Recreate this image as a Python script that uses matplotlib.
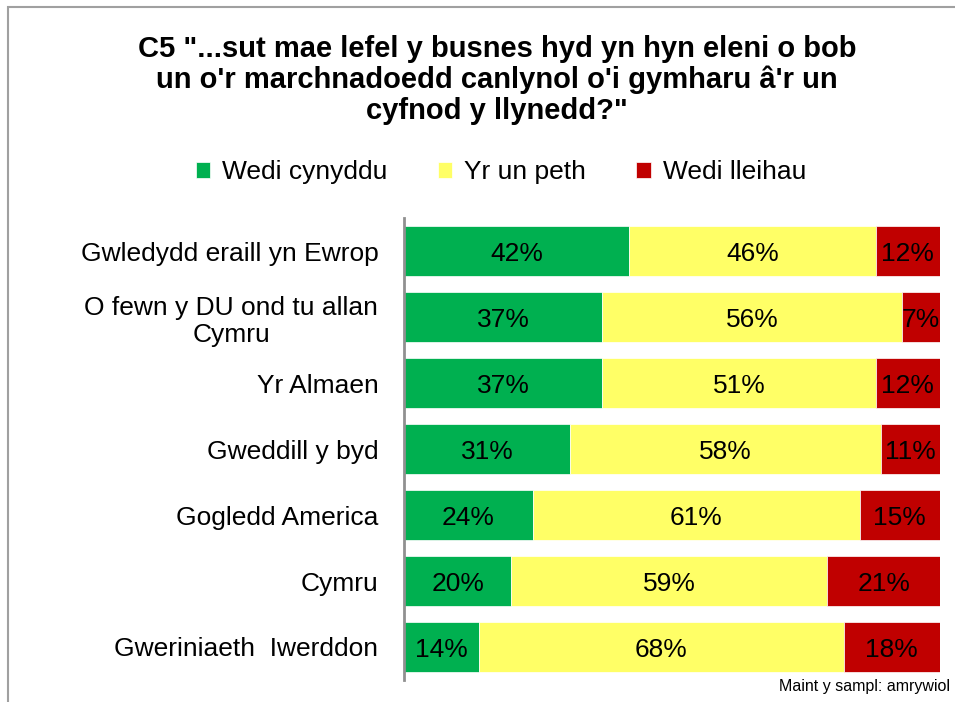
import numpy as np
import matplotlib.pyplot as plt
from matplotlib.patches import Rectangle

plt.rcParams['font.family'] = ['Liberation Sans', 'DejaVu Sans']

categories = ["Gwledydd eraill yn Ewrop", "O fewn y DU ond tu allan\nCymru", "Yr Almaen",
              "Gweddill y byd", "Gogledd America", "Cymru", "Gweriniaeth  Iwerddon"]
cynyddu = [42, 37, 37, 31, 24, 20, 14]
un_peth = [46, 56, 51, 58, 61, 59, 68]
lleihau = [12, 7, 12, 11, 15, 21, 18]
series_names = ["Wedi cynyddu", "Yr un peth", "Wedi lleihau"]
colors = ["#00B050", "#FFFF66", "#C00000"]

title = 'C5 "...sut mae lefel y busnes hyd yn hyn eleni o bob\nun o\'r marchnadoedd canlynol o\'i gymharu â\'r un\ncyfnod y llynedd?"'
footnote = "Maint y sampl: amrywiol"

fig = plt.figure(figsize=(9.55, 7.02), dpi=100)
W, H = 955, 702
ax = fig.add_axes([404 / W, 1 - 680 / H, 536 / W, 462 / H])

# frame around the chart area
fig.patches.append(Rectangle((8 / W, -0.1), 1.2, 1 - 7 / H + 0.1, transform=fig.transFigure,
                             fill=False, edgecolor="#a0a0a0", linewidth=1.5))

y = np.arange(len(categories))
left = np.zeros(len(categories))
for vals, name, c in zip([cynyddu, un_peth, lleihau], series_names, colors):
    vals = np.array(vals)
    ax.barh(y, vals, left=left, height=0.76, color=c, label=name, edgecolor="white", linewidth=0.5)
    for yi, l, v in zip(y, left, vals):
        ax.text(l + v / 2, yi + 0.04, "%d%%" % v, ha="center", va="center", fontsize=19)
    left += vals

ax.set_xlim(0, 100)
ax.set_ylim(len(categories) - 0.5, -0.5)
ax.set_yticks(y)
ax.set_yticklabels(categories, fontsize=19)
for lab in ax.get_yticklabels():
    lab.set_multialignment("center")
ax.tick_params(axis="y", length=0, pad=18.5)
ax.set_xticks([])
for s in ["top", "right", "bottom"]:
    ax.spines[s].set_visible(False)
ax.spines["left"].set_color("#909090")
ax.spines["left"].set_linewidth(2)

fig.text(497 / W, 1 - 80 / H, title, ha="center", va="center", fontsize=21,
         fontweight="bold", linespacing=1.12)
fig.legend(loc="center", bbox_to_anchor=(501 / W, 1 - 172 / H), ncol=3, frameon=False,
           fontsize=19, handlelength=0.55, handleheight=0.55, handletextpad=0.45, columnspacing=1.9)
fig.text(950 / W, 1 - 686 / H, footnote, ha="right", va="center", fontsize=11.5)

fig.savefig("out.png", dpi=100)
